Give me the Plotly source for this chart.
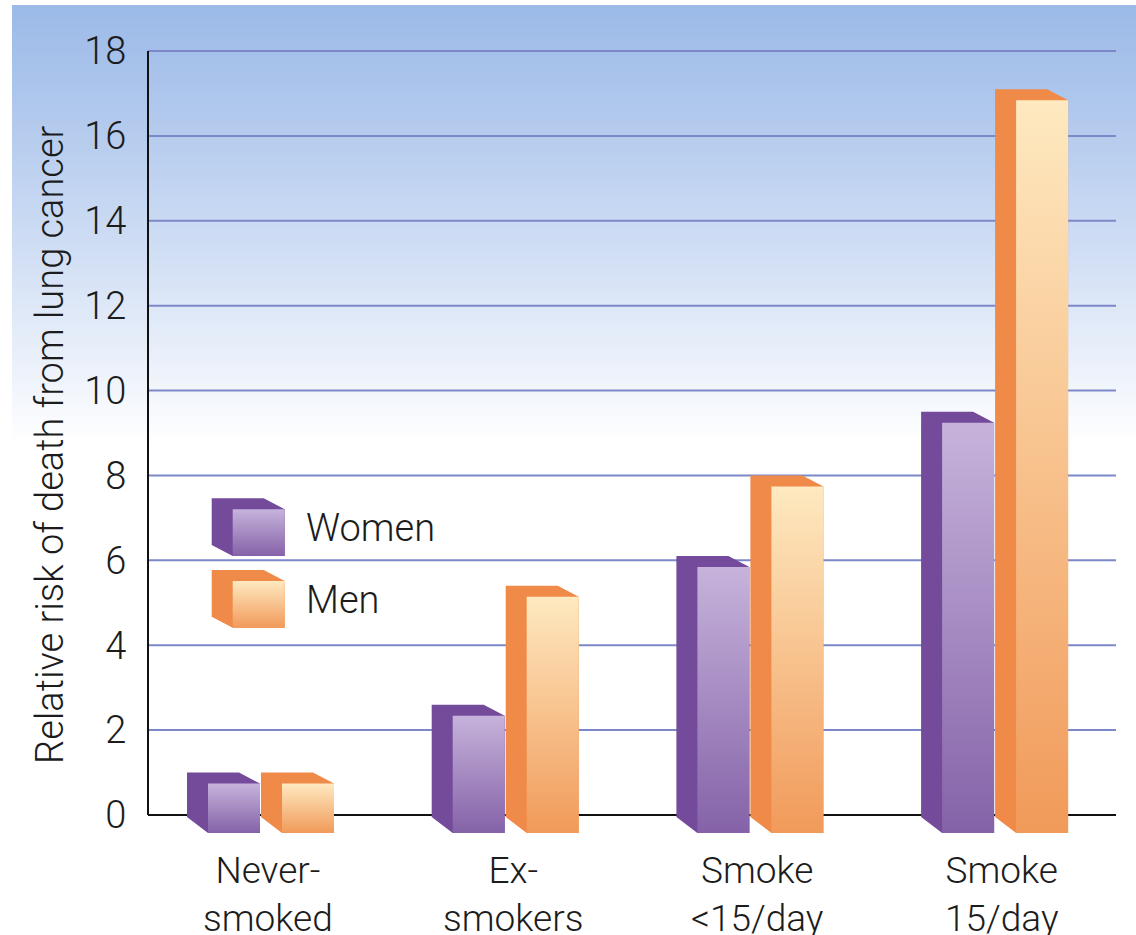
import base64
import struct
import zlib

import numpy as np
import plotly.graph_objects as go

# ---- data -----------------------------------------------------------------
categories = ["Never-<br>smoked", "Ex-<br>smokers", "Smoke<br>&lt;15/day", "Smoke<br>15/day"]
women = [1.0, 2.6, 6.1, 9.5]
men = [1.0, 5.4, 8.0, 17.1]
y_ticks = [0, 2, 4, 6, 8, 10, 12, 14, 16, 18]
series_names = ["Women", "Men"]

# ---- page geometry (pixels) --------------------------------------------------
W, H = 1136, 935
PX_PER_UNIT = 42.44      # value axis scale
PX_PER_CAT = 244.7       # category spacing
ZERO_PX = 815            # y pixel of value 0
CAT0_PX = 261            # x pixel of the first category
AXIS_LEFT_PX = 148
AXIS_RIGHT_PX = 1116

BAR_W_PX = 52
DEPTH_X_PX = 21
DEPTH_Y_PX = 11
FRONT_DROP_PX = 18
BACK_DROP_PX = 2


def px_x(p):
    return (p - CAT0_PX) / PX_PER_CAT


def px_y(p):
    return (ZERO_PX - p) / PX_PER_UNIT


bw = BAR_W_PX / PX_PER_CAT
dx = DEPTH_X_PX / PX_PER_CAT
dyt = DEPTH_Y_PX / PX_PER_UNIT
front_bottom = -FRONT_DROP_PX / PX_PER_UNIT
back_bottom = -BACK_DROP_PX / PX_PER_UNIT
pair_gap = (BAR_W_PX + DEPTH_X_PX + 1) / PX_PER_CAT

styles = {
    "Women": dict(side="#744a9b", grad=("#8562a8", "#c6b3db")),
    "Men": dict(side="#ef8a48", grad=("#f19a5a", "#fee9c0")),
}

fig = go.Figure()


def block(x_left, top, b_back, b_front, side, grad):
    """Draw one extruded box: dark side/top silhouette, then a shaded front face."""
    xs = [x_left, x_left, x_left + bw, x_left + bw + dx, x_left + bw + dx, x_left + dx, x_left]
    ys = [b_back, top, top, top - dyt, b_front, b_front, b_back]
    fig.add_trace(go.Scatter(x=xs, y=ys, fill="toself", fillcolor=side, mode="none",
                             hoverinfo="skip", showlegend=False))
    fx = [x_left + dx, x_left + dx + bw, x_left + dx + bw, x_left + dx, x_left + dx]
    fy = [top - dyt, top - dyt, b_front, b_front, top - dyt]
    fig.add_trace(go.Scatter(x=fx, y=fy, fill="toself", mode="none",
                             fillgradient=dict(type="vertical",
                                               colorscale=[[0, grad[0]], [1, grad[1]]]),
                             hoverinfo="skip", showlegend=False))


positions = np.arange(len(categories))
for i, pos in enumerate(positions):
    for name, values, shift in (("Women", women, -pair_gap), ("Men", men, 0.0)):
        st = styles[name]
        block(pos + shift, values[i], back_bottom, front_bottom, st["side"], st["grad"])

# ---- legend boxes -------------------------------------------------------------
legend_rows = {"Women": 498.3, "Men": 570.0}
cube_h = 46.7 / PX_PER_UNIT
for name, top_px in legend_rows.items():
    st = styles[name]
    top = px_y(top_px)
    block(px_x(211.7), top, top - cube_h, top - dyt - cube_h, st["side"], st["grad"])

text_color = "#1c1c1c"
font = dict(family="Roboto, Liberation Sans, Arial, sans-serif", size=38, color=text_color,
            weight=300)
cat_font = dict(font, size=37)

annotations = []
for name, top_px in legend_rows.items():
    annotations.append(dict(text=name, x=px_x(304), y=px_y(top_px + 30), xref="x", yref="y",
                            xanchor="left", yanchor="middle", showarrow=False, font=font))

for pos, label in zip(positions, categories):
    annotations.append(dict(text=label, x=pos + 0.03, y=1 - 847 / H, xref="x", yref="paper",
                            xanchor="center", yanchor="top", showarrow=False, font=cat_font,
                            align="center"))

annotations.append(dict(text="Relative risk of death from lung cancer", textangle=-90,
                        x=50 / W, y=1 - 445 / H, xref="paper", yref="paper",
                        xanchor="center", yanchor="middle", showarrow=False, font=font))

# ---- grid and axis lines ----------------------------------------------------
shapes = []
x0, x1 = px_x(AXIS_LEFT_PX), px_x(AXIS_RIGHT_PX)
for t in y_ticks[1:]:
    shapes.append(dict(type="line", xref="x", yref="y", x0=x0, x1=x1, y0=t, y1=t,
                       line=dict(color="#7d88c8", width=2), layer="below"))
shapes.append(dict(type="line", xref="x", yref="y", x0=x0, x1=x1, y0=0, y1=0,
                   line=dict(color="#111111", width=2), layer="below"))
shapes.append(dict(type="line", xref="x", yref="y", x0=x0, x1=x0, y0=0, y1=y_ticks[-1],
                   line=dict(color="#111111", width=2), layer="below"))


# ---- sky-blue backdrop fading to white ------------------------------------------
def gradient_png(rows):
    raw = b"".join(b"\x00" + bytes(c) * 2 for c in rows)

    def chunk(tag, data):
        body = tag + data
        return struct.pack(">I", len(data)) + body + struct.pack(">I", zlib.crc32(body) & 0xFFFFFFFF)

    ihdr = struct.pack(">IIBBBBB", 2, len(rows), 8, 2, 0, 0, 0)
    png = (b"\x89PNG\r\n\x1a\n" + chunk(b"IHDR", ihdr) + chunk(b"IDAT", zlib.compress(raw))
           + chunk(b"IEND", b""))
    return "data:image/png;base64," + base64.b64encode(png).decode()


bg_top, bg_bottom = 5, 445
top_rgb = np.array([156, 186, 232])
rows = []
n = bg_bottom - bg_top
for r in range(n):
    t = (r / (n - 1)) ** 1.1
    c = top_rgb * (1 - t) + 255 * t
    rows.append(tuple(int(round(v)) for v in c))

images = [dict(source=gradient_png(rows), xref="paper", yref="paper", x=12 / W, y=1 - bg_top / H,
               sizex=(W - 12) / W, sizey=n / H, xanchor="left", yanchor="top",
               sizing="stretch", layer="below")]

fig.update_layout(
    width=W, height=H, autosize=False,
    margin=dict(l=0, r=0, t=0, b=0),
    paper_bgcolor="white", plot_bgcolor="rgba(0,0,0,0)",
    xaxis=dict(range=[px_x(0), px_x(W)], visible=False, fixedrange=True),
    yaxis=dict(range=[px_y(H), px_y(0)], anchor="free", position=AXIS_LEFT_PX / W,
               tickvals=y_ticks, ticktext=[str(t) for t in y_ticks],
               showgrid=False, zeroline=False, showline=False,
               ticks="outside", ticklen=14, tickcolor="rgba(0,0,0,0)",
               tickfont=font, fixedrange=True),
    shapes=shapes, annotations=annotations, images=images,
    showlegend=False,
)

fig.write_html("out.html")
